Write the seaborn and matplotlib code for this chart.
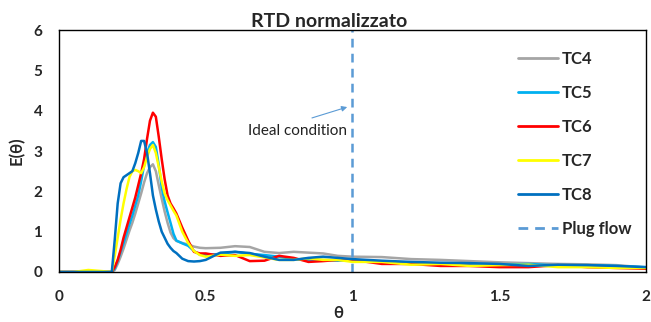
import matplotlib
matplotlib.use("Agg")
import matplotlib.pyplot as plt
import seaborn as sns
import pandas as pd

# theta grid (normalised time)
theta = [0, 0.05, 0.1, 0.15,
         0.18, 0.19, 0.20, 0.21, 0.22, 0.23, 0.24, 0.25, 0.26, 0.27, 0.28, 0.29,
         0.30, 0.31, 0.32, 0.33, 0.34, 0.35, 0.36, 0.37, 0.38, 0.39, 0.40,
         0.42, 0.44, 0.46, 0.48, 0.5,
         0.55, 0.6, 0.65, 0.7, 0.75, 0.8, 0.85, 0.9, 0.95, 1.0,
         1.1, 1.2, 1.3, 1.4, 1.5, 1.6, 1.7, 1.8, 1.9, 2.0]

tc4 = [0, 0, 0, 0,
       0, 0.05, 0.2, 0.38, 0.58, 0.8, 1.02, 1.22, 1.45, 1.7, 1.95, 2.22,
       2.45, 2.6, 2.67, 2.5, 2.15, 1.82, 1.5, 1.22, 0.98, 0.84, 0.77,
       0.72, 0.68, 0.63, 0.6, 0.59,
       0.6, 0.64, 0.62, 0.5, 0.47, 0.5, 0.48, 0.46, 0.4, 0.38,
       0.37, 0.32, 0.3, 0.27, 0.24, 0.22, 0.2, 0.19, 0.17, 0.11]
tc5 = [0, 0, 0, 0,
       0, 0.08, 0.28, 0.5, 0.72, 0.95, 1.18, 1.4, 1.65, 1.9, 2.25, 2.65,
       2.95, 3.15, 3.22, 3.1, 2.65, 2.1, 1.75, 1.48, 1.22, 0.95, 0.78,
       0.71, 0.65, 0.52, 0.43, 0.42,
       0.45, 0.5, 0.45, 0.42, 0.38, 0.32, 0.3, 0.3, 0.28, 0.3,
       0.25, 0.22, 0.18, 0.2, 0.18, 0.2, 0.16, 0.17, 0.15, 0.12]
tc6 = [0, 0, 0, 0,
       0, 0.12, 0.3, 0.55, 0.85, 1.1, 1.35, 1.6, 1.85, 2.15, 2.45, 2.8,
       3.3, 3.75, 3.95, 3.85, 3.35, 2.8, 2.3, 1.9, 1.7, 1.58, 1.45,
       1.1, 0.78, 0.5, 0.46, 0.46,
       0.4, 0.42, 0.27, 0.28, 0.4, 0.35, 0.25, 0.27, 0.3, 0.3,
       0.2, 0.2, 0.15, 0.15, 0.12, 0.12, 0.17, 0.12, 0.1, 0.08]
tc7 = [0, 0, 0.05, 0.02,
       0, 0.4, 0.85, 1.3, 1.7, 2.05, 2.35, 2.5, 2.53, 2.5, 2.45, 2.6,
       2.85, 3.05, 3.15, 2.95, 2.6, 2.25, 1.95, 1.78, 1.65, 1.52, 1.4,
       1.0, 0.72, 0.52, 0.42, 0.38,
       0.43, 0.4, 0.42, 0.36, 0.3, 0.3, 0.34, 0.3, 0.3, 0.25,
       0.25, 0.18, 0.2, 0.15, 0.17, 0.18, 0.12, 0.12, 0.1, 0.1]
tc8 = [0, 0, 0, 0,
       0, 0.8, 1.7, 2.2, 2.35, 2.4, 2.45, 2.5, 2.7, 2.95, 3.25, 3.25,
       2.95, 2.45, 1.9, 1.55, 1.25, 1.0, 0.85, 0.7, 0.6, 0.52, 0.47,
       0.33, 0.27, 0.26, 0.27, 0.3,
       0.48, 0.5, 0.47, 0.38, 0.3, 0.3, 0.35, 0.38, 0.35, 0.32,
       0.28, 0.25, 0.23, 0.22, 0.2, 0.15, 0.18, 0.17, 0.15, 0.12]

plug_x = [1, 1]
plug_y = [0, 6]

series_names = ["TC4", "TC5", "TC6", "TC7", "TC8"]
series_values = [tc4, tc5, tc6, tc7, tc8]
colors = ["#A5A5A5", "#00B0F0", "#FF0000", "#FFFF00", "#0070C0"]

x_ticks = [0, 0.5, 1, 1.5, 2]
x_tick_labels = ["0", "0.5", "1", "1.5", "2"]
y_ticks = [0, 1, 2, 3, 4, 5, 6]


def main():
    sns.set_style("white")
    plt.rcParams["font.family"] = ["Lato", "DejaVu Sans"]

    fig = plt.figure(figsize=(6.51, 3.22), dpi=100)
    ax = fig.add_axes([0.0906, 0.1553, 0.9017, 0.7515])

    for name, vals, col in zip(series_names, series_values, colors):
        df = pd.DataFrame({"theta": theta, "E": vals})
        sns.lineplot(data=df, x="theta", y="E", ax=ax, color=col, linewidth=1.8,
                     label=name, sort=False, estimator=None)

    sns.lineplot(x=plug_x, y=plug_y, ax=ax, color="#5B9BD5", linewidth=1.8,
                 linestyle=(0, (3.5, 2.5)), label="Plug flow", sort=False,
                 estimator=None)

    # annotation: text + separate arrow
    ax.text(0.814, 3.5, "Ideal condition", ha="center", va="center",
            fontsize=11, color="#222222")
    ax.annotate("", xy=(0.982, 4.09), xytext=(0.862, 3.82),
                arrowprops=dict(arrowstyle="-|>", color="#5B9BD5", lw=0.8,
                                mutation_scale=8, shrinkA=0, shrinkB=0))

    ax.set_xlim(0, 2)
    ax.set_ylim(0, 6)
    ax.set_xticks(x_ticks)
    ax.set_xticklabels(x_tick_labels)
    ax.set_yticks(y_ticks)
    ax.tick_params(length=0, labelsize=11)
    ax.tick_params(axis="x", pad=13)
    ax.tick_params(axis="y", pad=12)
    for lab in ax.get_xticklabels() + ax.get_yticklabels():
        lab.set_fontweight("bold")

    ax.set_xlabel("θ", fontsize=12, fontweight="bold")
    ax.xaxis.label.set_va("center")
    ax.xaxis.set_label_coords(0.475, -0.169)
    ax.set_ylabel("E(θ)", fontsize=12, fontweight="bold", labelpad=6)
    for sp in ax.spines.values():
        sp.set_color("black")
        sp.set_linewidth(1.0)

    fig.text(0.505, 0.916, "RTD normalizzato", ha="center", va="baseline",
             fontsize=14, fontweight="bold")

    leg = ax.legend(loc="upper left", bbox_to_anchor=(0.757, 0.975), frameon=False,
                    labelspacing=1.08, handlelength=2.4, handletextpad=0.2,
                    prop={"weight": "bold", "size": 12})
    for line in leg.get_lines():
        line.set_linewidth(2.0)

    fig.savefig("out.png", dpi=100)


if __name__ == "__main__":
    main()
